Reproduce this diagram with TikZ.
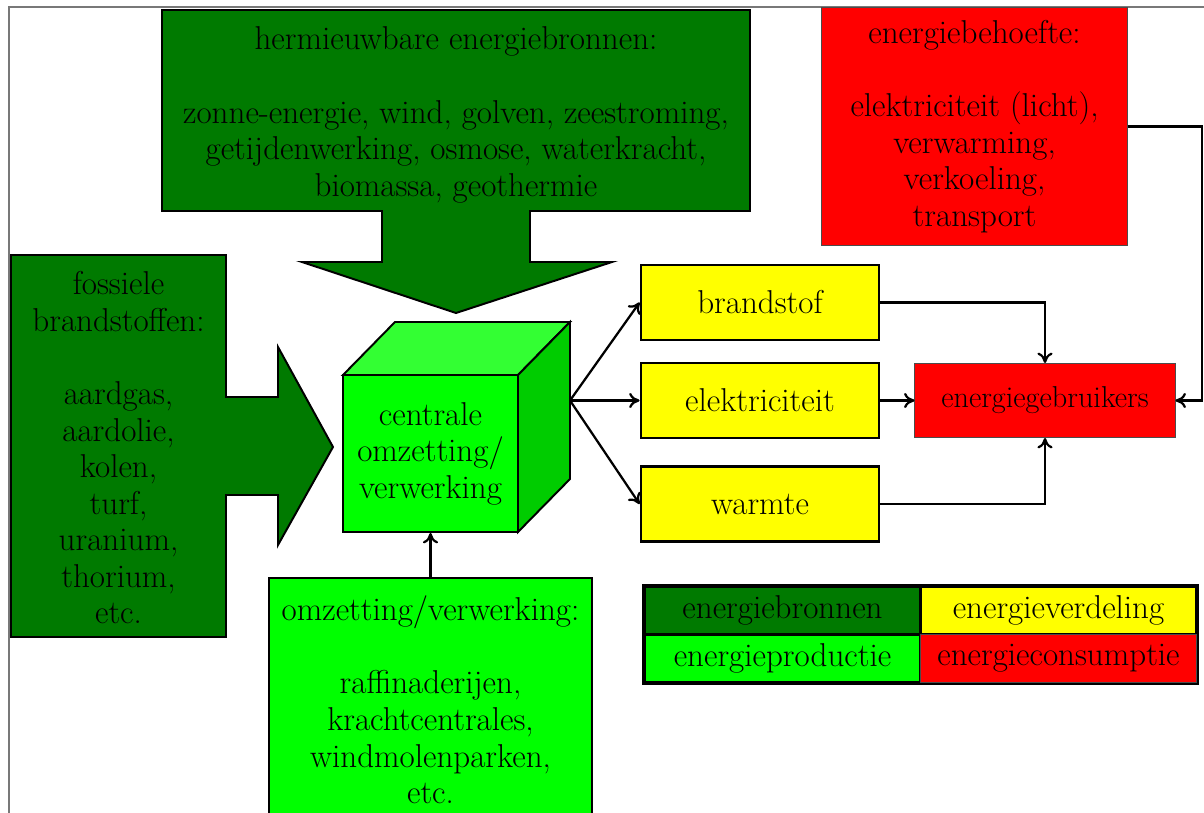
\documentclass[tikz,border=0pt]{standalone}
\usetikzlibrary{arrows.meta}

\definecolor{srcgreen}{RGB}{0,122,0}
\definecolor{prodgreen}{RGB}{0,255,0}
\definecolor{cubetop}{RGB}{51,255,51}
\definecolor{cubeside}{RGB}{0,204,0}
\definecolor{distyellow}{RGB}{255,255,0}
\definecolor{consred}{RGB}{255,0,0}
\definecolor{framegray}{RGB}{120,120,120}

\tikzset{
  lbl/.style={font=\fontsize{23.5}{26}\selectfont, align=center, inner sep=0pt},
  shapeline/.style={draw=black, line width=1.4pt},
  greenbox/.style={lbl, shapeline, fill=prodgreen},
  yellowbox/.style={lbl, draw=black, line width=2pt, fill=distyellow,
    minimum width=5.95cm, minimum height=1.875cm},
  redbox/.style={lbl, draw=black!70, line width=0.7pt, fill=consred},
  legendcell/.style={lbl, draw=black, line width=1.6pt,
    minimum width=6.9cm, minimum height=1.2cm},
  flow/.style={line width=1.6pt, -{To[length=0.26cm,width=0.38cm]}},
}

\begin{document}
\begin{tikzpicture}[x=0.025cm, y=-0.025cm, line join=miter]
  \useasboundingbox (0,0) rectangle (1204,813);
  \clip (0,0) rectangle (1204,813);

  % outer frame
  \draw[framegray, line width=1pt] (9,7) rectangle (1240,850);

  % renewable sources: box with a downward arrow
  \draw[shapeline, fill=srcgreen]
    (162,10) -- (750,10) -- (750,211) -- (530,211) -- (530,262) -- (612,262)
    -- (456,313) -- (302,262) -- (382,262) -- (382,211) -- (162,211) -- cycle;
  \node[lbl] (renew) at (456,115) {hermieuwbare energiebronnen:\\[26pt]
    zonne-energie, wind, golven, zeestroming,\\
    getijdenwerking, osmose, waterkracht,\\
    biomassa, geothermie};

  % fossil fuels: box with an arrow to the right
  \draw[shapeline, fill=srcgreen]
    (11,255) -- (226,255) -- (226,397) -- (278,397) -- (278,347) -- (333,447)
    -- (278,545) -- (278,495) -- (226,495) -- (226,637) -- (11,637) -- cycle;
  \node[lbl] (fossil) at (118.5,448) {fossiele\\brandstoffen:\\[26pt]
    aardgas,\\aardolie,\\kolen,\\turf,\\uranium,\\thorium,\\etc.};

  % central conversion cube
  \draw[shapeline, fill=cubetop] (343,375) -- (395,322) -- (570,322) -- (518,375) -- cycle;
  \draw[shapeline, fill=cubeside] (518,375) -- (570,322) -- (570,479) -- (518,532) -- cycle;
  \node[greenbox, minimum width=4.375cm, minimum height=3.925cm] (cube) at (430.5,453.5)
    {centrale\\omzetting/\\verwerking};
  \coordinate (cubeout) at (570,400.5);

  % conversion plants
  \node[greenbox, minimum width=8.075cm, minimum height=6.1cm] (plants) at (430.5,700)
    {omzetting/verwerking:\\[26pt]raffinaderijen,\\krachtcentrales,\\windmolenparken,\\etc.};

  % distribution
  \node[yellowbox] (fuel) at (760,302.5) {brandstof};
  \node[yellowbox] (elec) at (760,400.5) {elektriciteit};
  \node[yellowbox] (heat) at (760,504) {warmte};

  % consumption
  \node[redbox, minimum width=6.5cm, minimum height=1.85cm,
        font=\fontsize{21.5}{26}\selectfont] (users) at (1045,400.5)
    {energiegebruikers};
  \node[redbox, minimum width=7.625cm, minimum height=5.925cm] (demand) at (974.5,126.5)
    {energiebehoefte:\\[26pt]elektriciteit (licht),\\verwarming,\\verkoeling,\\transport};
  \coordinate (demandturn) at (1202,126.5);

  % connectors
  \draw[flow] (plants.north) -- (cube.south);
  \draw[flow] (cubeout) -- (fuel.west);
  \draw[flow] (cubeout) -- (elec.west);
  \draw[flow] (cubeout) -- (heat.west);
  \draw[flow] (fuel.east) -| (users.north);
  \draw[flow] (elec.east) -- (users.west);
  \draw[flow] (heat.east) -| (users.south);
  \draw[flow] (demand.east) -- (demandturn) |- (users.east);

  % legend
  \node[legendcell, fill=srcgreen] (lg1) at (782.5,610.5) {energiebronnen};
  \node[legendcell, fill=distyellow] (lg2) at (1058.5,610.5) {energieverdeling};
  \node[legendcell, fill=prodgreen] (lg3) at (782.5,658.5) {energieproductie};
  \node[legendcell, fill=consred, draw=black!70, line width=0.7pt] (lg4) at (1058.5,658.5) {energieconsumptie};
  \draw[line width=1.6pt] (lg1.north west) rectangle (lg2.north east |- lg3.south);
\end{tikzpicture}
\end{document}
